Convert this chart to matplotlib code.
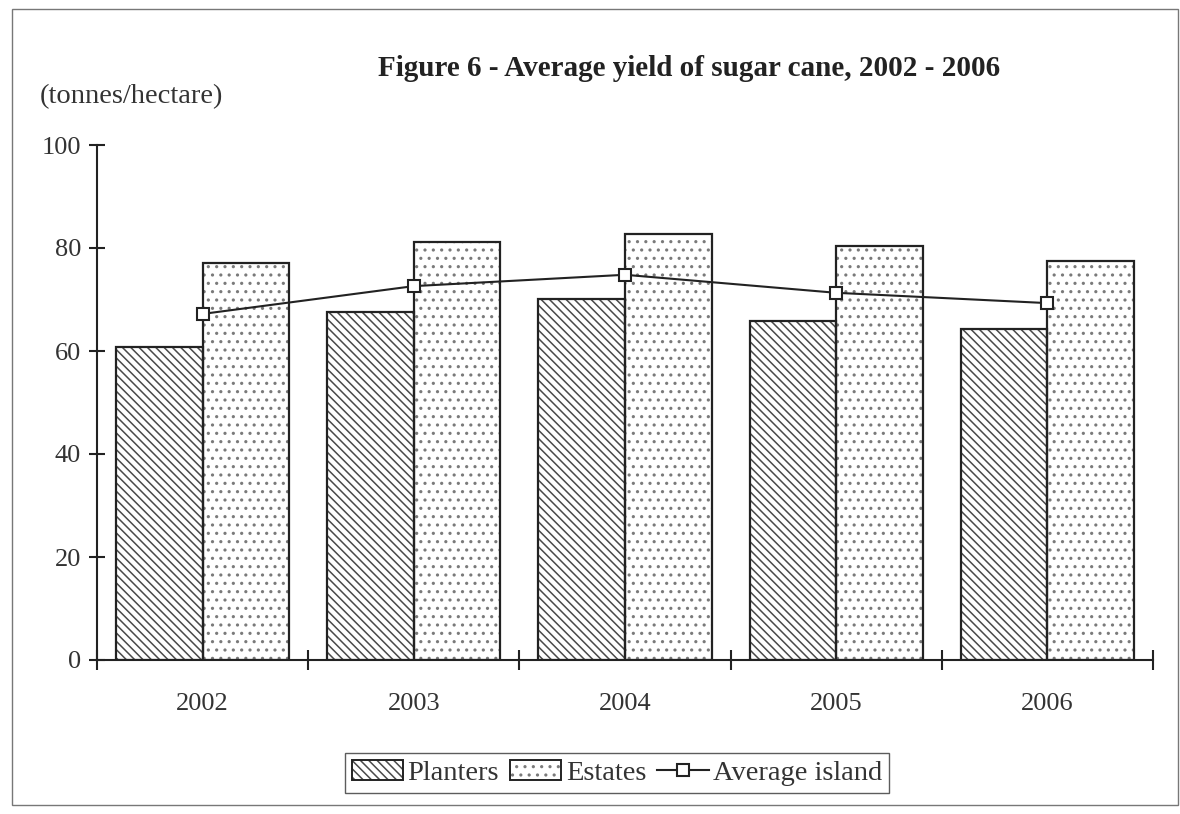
import matplotlib
matplotlib.use("Agg")
import matplotlib.pyplot as plt
from matplotlib.patches import Rectangle, Patch
from matplotlib.lines import Line2D
from matplotlib.legend_handler import HandlerTuple
import numpy as np

years = ["2002", "2003", "2004", "2005", "2006"]
planters = [60.8, 67.6, 70.1, 65.8, 64.3]
estates = [77.1, 81.2, 82.7, 80.4, 77.5]
average_island = [67.2, 72.6, 74.8, 71.3, 69.3]
y_ticks = [0, 20, 40, 60, 80, 100]

plt.rcParams['font.family'] = ['Liberation Serif', 'DejaVu Serif']
plt.rcParams['hatch.linewidth'] = 1.1

fig = plt.figure(figsize=(11.8, 8.14), dpi=100)
ax = fig.add_axes([97/1180, 1-660/814, (1153-97)/1180, (660-145)/814])

EDGE = '#222222'
PL_HATCH = '#4a4a4a'
ES_HATCH = '#7a7a7a'
PL_PATTERN = '\\\\\\\\'
ES_PATTERN = '..'
x = np.arange(len(years))
w = 0.41
# hatched fills (hatch colour follows the edge colour, so outlines are drawn separately)
ax.bar(x - w/2, planters, width=w, facecolor='white', edgecolor=PL_HATCH,
       linewidth=0, hatch=PL_PATTERN, zorder=2)
ax.bar(x + w/2, estates, width=w, facecolor='white', edgecolor=ES_HATCH,
       linewidth=0, hatch=ES_PATTERN, zorder=2)
ax.bar(x - w/2, planters, width=w, fill=False, edgecolor=EDGE, linewidth=1.6, zorder=2.5)
ax.bar(x + w/2, estates, width=w, fill=False, edgecolor=EDGE, linewidth=1.6, zorder=2.5)
ax.plot(x, average_island, color=EDGE, linewidth=1.5, marker='s',
        markersize=9, markerfacecolor='white', markeredgecolor=EDGE,
        markeredgewidth=1.5, zorder=3)

ax.set_xlim(-0.5, len(years) - 0.5)
ax.set_ylim(0, 100)
ax.set_yticks(y_ticks)
ax.set_xticks(np.arange(-0.5, len(years)))
ax.set_xticklabels([])
ax.set_xticks(x, minor=True)
ax.set_xticklabels(years, minor=True)
ax.tick_params(axis='x', which='minor', length=0, pad=24, labelsize=19, colors='#333333')
ax.tick_params(axis='x', which='major', direction='inout', length=14, width=1.5, colors=EDGE)
ax.tick_params(axis='y', direction='inout', length=11, width=1.5, pad=6, labelsize=19,
               colors=EDGE, labelcolor='#333333')
for s in ['top', 'right']:
    ax.spines[s].set_visible(False)
for s in ['left', 'bottom']:
    ax.spines[s].set_linewidth(1.5)
    ax.spines[s].set_color(EDGE)

fig.text(689/1180, 1-68/814, "Figure 6 - Average yield of sugar cane, 2002 - 2006",
         ha='center', va='center', fontsize=21, fontweight='bold', color='#222222')
fig.text(40/1180, 1-97/814, "(tonnes/hectare)", ha='left', va='center',
         fontsize=20.5, color='#333333')

h_pl = (Patch(facecolor='white', edgecolor=PL_HATCH, linewidth=0, hatch=PL_PATTERN),
        Patch(fill=False, edgecolor=EDGE, linewidth=1.4))
h_es = (Patch(facecolor='white', edgecolor=ES_HATCH, linewidth=0, hatch=ES_PATTERN),
        Patch(fill=False, edgecolor=EDGE, linewidth=1.4))
h_av = Line2D([], [], color=EDGE, linewidth=1.5, marker='s', markersize=9,
              markerfacecolor='white', markeredgecolor=EDGE, markeredgewidth=1.5)
leg = fig.legend([h_pl, h_es, h_av], ['Planters', 'Estates', 'Average island'],
                 handler_map={tuple: HandlerTuple(ndivide=1, pad=0)},
                 loc='center', bbox_to_anchor=(617/1180, 1-773/814), ncol=3,
                 fontsize=20.5, frameon=True, fancybox=False, edgecolor='#333333',
                 handlelength=1.8, handleheight=0.7, handletextpad=0.15,
                 columnspacing=0.4, borderpad=0.25, borderaxespad=0)
leg.get_frame().set_linewidth(1.0)
for t in leg.get_texts():
    t.set_color('#333333')

fig.patches.append(Rectangle((12/1180, 1-805/814), (1178-12)/1180, (805-9)/814,
                             transform=fig.transFigure, fill=False,
                             edgecolor='#777777', linewidth=1.0))

fig.savefig("out.png", dpi=100)
